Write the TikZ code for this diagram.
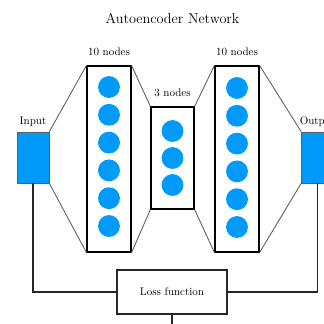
\documentclass[tikz,border=0pt]{standalone}
\usepackage{tikz}
\usetikzlibrary{positioning}
\definecolor{nodeblue}{RGB}{0,155,250}
\definecolor{linegray}{RGB}{95,95,95}

\begin{document}
\begin{tikzpicture}[x=0.032cm, y=-0.032cm,
	layer/.style={draw=black, line width=1.2pt, inner sep=0pt, minimum width=1.4cm},
	neuron/.style={circle, fill=nodeblue, minimum size=0.70cm, inner sep=0pt},
	iobox/.style={draw=linegray, fill=nodeblue, line width=0.8pt, inner sep=0pt, minimum width=1.02cm, minimum height=1.63cm},
	link/.style={draw=linegray, line width=0.8pt},
	wire/.style={draw=black!85, line width=1pt}]
	\useasboundingbox (0,0) rectangle (324,323);
	% Define nodes
	\node[font=\fontsize{13}{15}\selectfont] (title) at (172.5,18) {Autoencoder Network};
	\node[iobox] (inp) at (33,157.5) {};
	\node[iobox] (out) at (317.5,157.5) {};
	\node[layer, minimum height=5.95cm] (enc) at (109,159) {};
	\node[layer, minimum width=1.376cm, minimum height=3.264cm] (code) at (172.5,158) {};
	\node[layer, minimum height=5.95cm] (dec) at (237,159) {};
	\node[draw=black!85, line width=1pt, minimum width=3.52cm, minimum height=1.41cm] (loss) at (172,292) {Loss function};
	\coordinate (lossout) at (172,340);
	% Labels
	\node[above=1pt of inp] (inplabel) {Input};
	\node[above=1pt of out] (outlabel) {Output};
	\node[above=5pt of enc] (enclabel) {10 nodes};
	\node[above=5pt of code] (codelabel) {3 nodes};
	\node[above=5pt of dec] (declabel) {10 nodes};
	% Neurons
	\foreach \i in {1,...,6} {
		\node[neuron] (e\i) at (109,{87+27.8*(\i-1)}) {};
		\node[neuron] (d\i) at (237,{88+27.8*(\i-1)}) {};
	}
	\foreach \i in {1,2,3}
		\node[neuron] (c\i) at (172.5,{131+27*(\i-1)}) {};
	% Connect the nodes
	\draw[link] (inp.north east) -- (enc.north west);
	\draw[link] (inp.south east) -- (enc.south west);
	\draw[link] (enc.north east) -- (code.north west);
	\draw[link] (enc.south east) -- (code.south west);
	\draw[link] (code.north east) -- (dec.north west);
	\draw[link] (code.south east) -- (dec.south west);
	\draw[link] (dec.north east) -- (out.north west);
	\draw[link] (dec.south east) -- (out.south west);
	% Loss
	\draw[wire] (inp.south) |- (loss.west);
	\draw[wire] (out.south) |- (loss.east);
	\draw[wire] (loss.south) -- (lossout);
\end{tikzpicture}
\end{document}
